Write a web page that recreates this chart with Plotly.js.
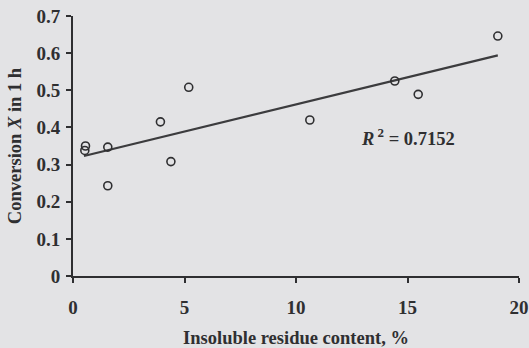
<!DOCTYPE html>
<html>
<head>
<meta charset="utf-8">
<script src="https://cdn.plot.ly/plotly-3.0.1.min.js"></script>
<style>
html,body{margin:0;padding:0;background:#e3e3e5;}
#chart{width:529px;height:348px;}
</style>
</head>
<body>
<div id="chart"></div>
<script>
// Data
const residue = [0.56, 0.53, 1.56, 1.56, 3.92, 4.39, 5.19, 10.62, 14.43, 15.48, 19.05];
const conversion = [0.350, 0.338, 0.347, 0.243, 0.415, 0.308, 0.508, 0.420, 0.525, 0.489, 0.646];
const fitX = [0.49, 19.05];
const fitY = [0.323, 0.594];
const rSquaredText = "<i>R</i><sup> 2</sup> = 0.7152";
const xTicks = [0, 5, 10, 15, 20];
const yTicks = [0, 0.1, 0.2, 0.3, 0.4, 0.5, 0.6, 0.7];
const yTickText = ["0", "0.1", "0.2", "0.3", "0.4", "0.5", "0.6", "0.7"];

const ink = "#2f2f31";
const fam = "Liberation Serif, Times New Roman, serif";

const traces = [
  {
    x: fitX, y: fitY, mode: "lines", type: "scatter",
    line: {color: "#3c3c3e", width: 2.2}, hoverinfo: "skip", showlegend: false
  },
  {
    x: residue, y: conversion, mode: "markers", type: "scatter",
    marker: {symbol: "circle-open", size: 8, color: ink, line: {width: 1.6, color: ink}},
    showlegend: false
  }
];

const layout = {
  width: 529, height: 348,
  paper_bgcolor: "#e3e3e5", plot_bgcolor: "rgba(0,0,0,0)",
  margin: {l: 72.5, r: 10, t: 16, b: 72},
  font: {family: fam, size: 17, color: ink},
  showlegend: false,
  xaxis: {
    range: [0, 20], tickvals: xTicks, ticktext: xTicks.map(String),
    showgrid: false, zeroline: false, showline: true, linecolor: ink, linewidth: 2,
    ticks: "outside", ticklen: 5, tickwidth: 2, tickcolor: ink,
    ticklabelstandoff: 8,
    tickfont: {family: fam, size: 19, color: ink, weight: "bold"},
    title: {text: "<b>Insoluble residue content, %</b>", font: {family: fam, size: 18.5, color: ink}, standoff: 17}
  },
  yaxis: {
    range: [0, 0.7], tickvals: yTicks, ticktext: yTickText,
    showgrid: false, zeroline: false, showline: true, linecolor: ink, linewidth: 2,
    ticks: "outside", ticklen: 5, tickwidth: 2, tickcolor: ink,
    ticklabelstandoff: 2,
    tickfont: {family: fam, size: 19, color: ink, weight: "bold"},
    title: {text: "<b>Conversion <i>X</i> in 1 h</b>", font: {family: fam, size: 18.5, color: ink}, standoff: 10}
  },
  annotations: [
    {
      x: 15, y: 0.375, xref: "x", yref: "y", text: "<b>" + rSquaredText + "</b>",
      showarrow: false, font: {family: fam, size: 18.5, color: ink}
    }
  ]
};

Plotly.newPlot("chart", traces, layout, {displayModeBar: false, staticPlot: true});
</script>
</body>
</html>
